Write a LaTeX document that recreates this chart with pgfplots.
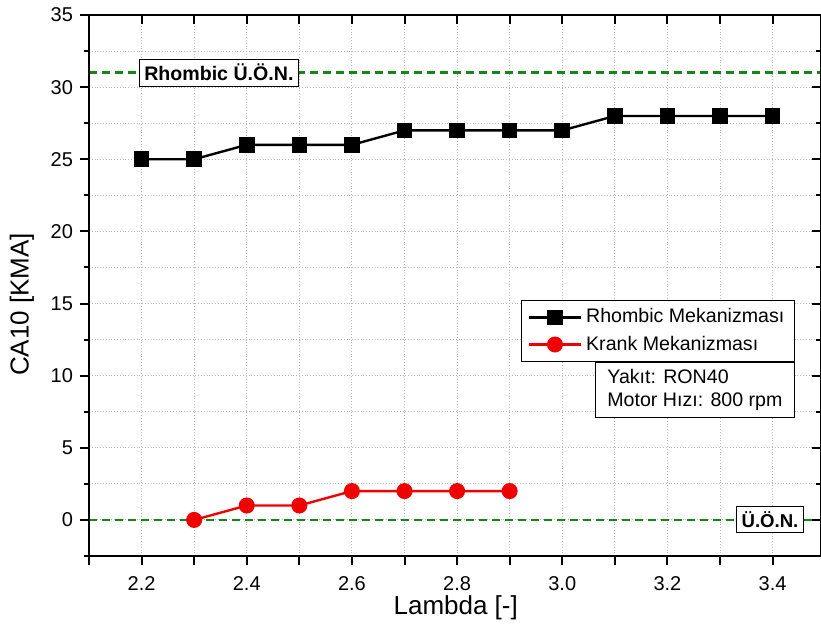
\documentclass[border=0pt]{standalone}
\usepackage{fontspec}
\setmainfont{Liberation Sans}
\usepackage{pgfplots}
\pgfplotsset{compat=1.18}
\definecolor{gline}{RGB}{20,135,20}
\definecolor{kred}{RGB}{240,0,0}
\begin{document}
\begin{tikzpicture}
\useasboundingbox (-44.5pt,-40.5pt) rectangle (366pt,278pt);
\begin{axis}[
  at={(0,0)}, anchor=south west,
  scale only axis, width=366pt, height=270.5pt,
  xmin=2.1, xmax=3.492, ymin=-2.5, ymax=35,
  xtick={2.1,2.2,2.3,2.4,2.5,2.6,2.7,2.8,2.9,3.0,3.1,3.2,3.3,3.4},
  xticklabels={,2.2,,2.4,,2.6,,2.8,,3.0,,3.2,,3.4},
  ytick={0,5,10,15,20,25,30,35},
  minor ytick={-2.5,2.5,7.5,12.5,17.5,22.5,27.5,32.5},
  grid=both,
  major grid style={densely dotted, gray!55, line width=0.5pt},
  minor grid style={densely dotted, gray!55, line width=0.5pt},
  tick align=outside, xtick pos=left, ytick pos=left,
  major tick length=4.5pt, minor tick length=2.5pt,
  tick style={black, line width=1pt},
  axis line style={line width=1.2pt},
  /pgf/number format/assume math mode=true,
  ticklabel style={font=\fontsize{10}{11}\selectfont},
  xticklabel style={yshift=-2pt},
  xlabel={Lambda [-]}, ylabel={CA10 [KMA]},
  label style={font=\fontsize{13}{15}\selectfont},
  xlabel style={at={(axis description cs:0.501,-0.096)}, anchor=center},
  ylabel style={at={(axis description cs:-0.0915,0.465)}, anchor=center, rotate=0},
  legend style={at={(0.9645,0.473)}, anchor=north east, draw=black, line width=0.6pt,
    font=\fontsize{9.8}{11}\selectfont, cells={anchor=west}, inner xsep=3pt, inner ysep=2pt,
    row sep=1pt},
  legend image code/.code={\draw[mark repeat=2,mark phase=2] plot coordinates {(0pt,0pt)(13pt,0pt)(26pt,0pt)};},
]
\addplot[gline, line width=1.3pt, dash pattern=on 4pt off 2.5pt, forget plot] coordinates {(2.1,31) (3.492,31)};
\addplot[gline, line width=1.3pt, dash pattern=on 4pt off 2.5pt, forget plot] coordinates {(2.1,0) (3.492,0)};
\addplot[black, line width=1.2pt, mark=square*, mark size=3.3pt, mark options={solid}] coordinates {
(2.2,25) (2.3,25) (2.4,26) (2.5,26) (2.6,26) (2.7,27) (2.8,27) (2.9,27) (3.0,27) (3.1,28) (3.2,28) (3.3,28) (3.4,28)};
\addlegendentry{Rhombic Mekanizması}
\addplot[kred, line width=1.2pt, mark=*, mark size=3.4pt, mark options={solid, fill=kred}] coordinates {
(2.3,0) (2.4,1) (2.5,1) (2.6,2) (2.7,2) (2.8,2) (2.9,2)};
\addlegendentry{Krank Mekanizması}
\node[draw=black, fill=white, line width=0.5pt, inner xsep=2.5pt, inner ysep=2.5pt, font=\bfseries\fontsize{9.8}{11}\selectfont] at (axis cs:2.347,31) {Rhombic Ü.Ö.N.};
\node[draw=black, fill=white, line width=0.5pt, inner xsep=2.5pt, inner ysep=2.5pt, font=\bfseries\fontsize{9.3}{11}\selectfont] at (axis cs:3.395,0) {Ü.Ö.N.};
\node[draw=black, fill=white, line width=0.6pt, anchor=north east, align=left, inner xsep=6pt, inner ysep=3.5pt,
  font=\fontsize{9.8}{11.5}\selectfont] at (rel axis cs:0.9645,0.3586) {Yakıt: RON40\\Motor Hızı: 800 rpm};
\end{axis}
\begin{axis}[
  at={(0,0)}, anchor=south west,
  scale only axis, width=366pt, height=270.5pt,
  xmin=2.1, xmax=3.492, ymin=-2.5, ymax=35,
  xtick={2.1,2.2,2.3,2.4,2.5,2.6,2.7,2.8,2.9,3.0,3.1,3.2,3.3,3.4},
  xticklabels={},
  ytick={0,5,10,15,20,25,30,35}, yticklabels={},
  minor ytick={-2.5,2.5,7.5,12.5,17.5,22.5,27.5,32.5},
  tick align=inside, xtick pos=right, ytick pos=right,
  major tick length=4.5pt, minor tick length=2.5pt,
  tick style={black, line width=1pt},
  axis line style={line width=1.2pt},
]
\end{axis}
\end{tikzpicture}
\end{document}
